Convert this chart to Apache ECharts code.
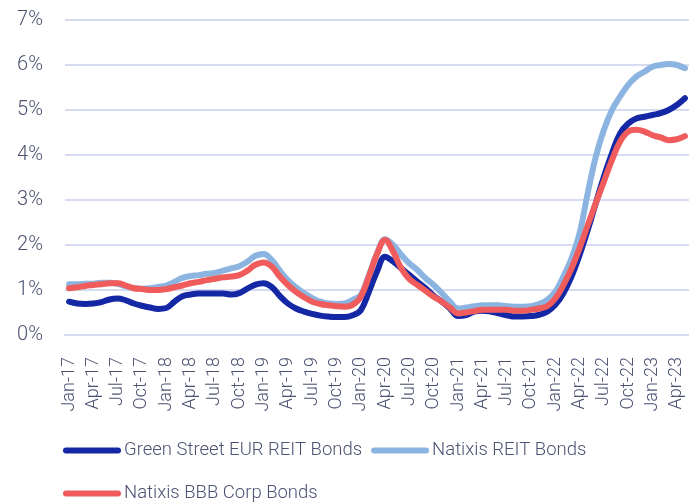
<!DOCTYPE html>
<html>
<head>
<meta charset="utf-8">
<script src="https://cdn.jsdelivr.net/npm/echarts@6/dist/echarts.min.js"></script>
<style>
  html, body { margin: 0; padding: 0; background: #fff; }
  #chart { width: 689px; height: 502px; }
</style>
</head>
<body>
<div id="chart"></div>
<script>
// monthly points, Jan-17 .. May-23
const monthNames = ['Jan', 'Feb', 'Mar', 'Apr', 'May', 'Jun', 'Jul', 'Aug', 'Sep', 'Oct', 'Nov', 'Dec'];
const years = ['17', '18', '19', '20', '21', '22', '23'];
const lastMonthIndex = 4; // May-23

const categories = [];
years.forEach((y, yi) => {
  monthNames.forEach((m, mi) => {
    if (yi === years.length - 1 && mi > lastMonthIndex) return;
    categories.push(m + '-' + y);
  });
});

const seriesNames = ['Green Street EUR REIT Bonds', 'Natixis REIT Bonds', 'Natixis BBB Corp Bonds'];

const greenStreet = [
  0.74, 0.70, 0.69, 0.70, 0.73, 0.79, 0.81, 0.77, 0.70, 0.65,
  0.61, 0.58, 0.60, 0.74, 0.86, 0.90, 0.92, 0.92, 0.92, 0.92,
  0.90, 0.93, 1.03, 1.12, 1.15, 1.07, 0.87, 0.70, 0.59, 0.52,
  0.47, 0.43, 0.41, 0.40, 0.40, 0.44, 0.55, 0.96, 1.41, 1.74,
  1.63, 1.48, 1.33, 1.18, 1.04, 0.87, 0.74, 0.59, 0.42, 0.44,
  0.52, 0.54, 0.52, 0.48, 0.44, 0.41, 0.41, 0.42, 0.45, 0.52,
  0.67, 0.93, 1.30, 1.78, 2.33, 2.93, 3.52, 4.04, 4.48, 4.70,
  4.81, 4.85, 4.89, 4.93, 5.00, 5.11, 5.26
];

const natixisReit = [
  1.13, 1.13, 1.14, 1.14, 1.16, 1.16, 1.14, 1.08, 1.04, 1.03,
  1.04, 1.07, 1.10, 1.18, 1.27, 1.31, 1.33, 1.36, 1.38, 1.43,
  1.48, 1.53, 1.63, 1.76, 1.80, 1.67, 1.43, 1.22, 1.06, 0.93,
  0.82, 0.74, 0.70, 0.69, 0.70, 0.78, 0.89, 1.33, 1.81, 2.13,
  2.00, 1.78, 1.59, 1.44, 1.26, 1.11, 0.93, 0.74, 0.59, 0.61,
  0.64, 0.66, 0.66, 0.66, 0.64, 0.63, 0.63, 0.64, 0.69, 0.78,
  0.96, 1.30, 1.70, 2.26, 3.15, 3.96, 4.56, 5.00, 5.30, 5.56,
  5.74, 5.85, 5.96, 6.00, 6.02, 6.00, 5.93
];

const natixisBbb = [
  1.04, 1.06, 1.09, 1.11, 1.13, 1.15, 1.15, 1.10, 1.04, 1.02,
  1.00, 1.00, 1.02, 1.06, 1.10, 1.15, 1.18, 1.22, 1.25, 1.28,
  1.30, 1.33, 1.43, 1.56, 1.61, 1.52, 1.30, 1.11, 0.96, 0.84,
  0.74, 0.69, 0.66, 0.64, 0.63, 0.67, 0.85, 1.30, 1.80, 2.11,
  1.85, 1.48, 1.24, 1.11, 0.98, 0.85, 0.74, 0.61, 0.48, 0.50,
  0.53, 0.56, 0.56, 0.56, 0.56, 0.54, 0.54, 0.56, 0.59, 0.64,
  0.81, 1.11, 1.48, 1.93, 2.44, 2.93, 3.41, 3.89, 4.30, 4.52,
  4.56, 4.52, 4.44, 4.39, 4.33, 4.35, 4.42
];

const colors = ['#1428a6', '#8cb4e0', '#f05c5c'];
const textColor = '#4b5272';
const gridColor = '#d6dbf1';
const legendIcon = 'path://M3,0 L55,0 A3,3 0 0 1 55,6 L3,6 A3,3 0 0 1 3,0 Z';

const chart = echarts.init(document.getElementById('chart'), null, { renderer: 'canvas' });

const legendBase = {
  left: 63,
  orient: 'horizontal',
  icon: legendIcon,
  itemWidth: 58,
  itemHeight: 6,
  itemGap: 9,
  padding: 0,
  selectedMode: false,
  textStyle: {
    color: textColor,
    fontFamily: 'Roboto, sans-serif',
    fontWeight: 300,
    fontSize: 18.5,
    padding: [0, 0, 0, -2]
  }
};

chart.setOption({
  animation: false,
  color: colors,
  grid: { left: 65, right: 0, top: 20, bottom: 167, containLabel: false },
  legend: [
    Object.assign({}, legendBase, { top: 441, data: [seriesNames[0], seriesNames[1]] }),
    Object.assign({}, legendBase, { top: 484, data: [seriesNames[2]] })
  ],
  xAxis: {
    type: 'category',
    data: categories,
    boundaryGap: true,
    axisLine: { lineStyle: { color: gridColor, width: 2 } },
    axisTick: { interval: 2, length: 7, lineStyle: { color: gridColor, width: 2 } },
    axisLabel: {
      interval: 2,
      rotate: 90,
      margin: 22,
      color: textColor,
      fontFamily: 'Roboto, sans-serif',
      fontWeight: 300,
      fontSize: 18
    },
    splitLine: { show: false }
  },
  yAxis: {
    type: 'value',
    min: 0,
    max: 7,
    interval: 1,
    axisLine: { show: false },
    axisTick: { show: false },
    axisLabel: {
      formatter: '{value}%',
      margin: 22,
      color: textColor,
      fontFamily: 'Roboto, sans-serif',
      fontWeight: 300,
      fontSize: 20
    },
    splitLine: { lineStyle: { color: gridColor, width: 2 } }
  },
  series: [
    { name: seriesNames[0], type: 'line', data: greenStreet },
    { name: seriesNames[1], type: 'line', data: natixisReit },
    { name: seriesNames[2], type: 'line', data: natixisBbb }
  ].map(s => Object.assign(s, {
    smooth: 0.4,
    showSymbol: false,
    symbol: 'none',
    lineStyle: { width: 6, cap: 'round', join: 'round' }
  }))
});
</script>
</body>
</html>
